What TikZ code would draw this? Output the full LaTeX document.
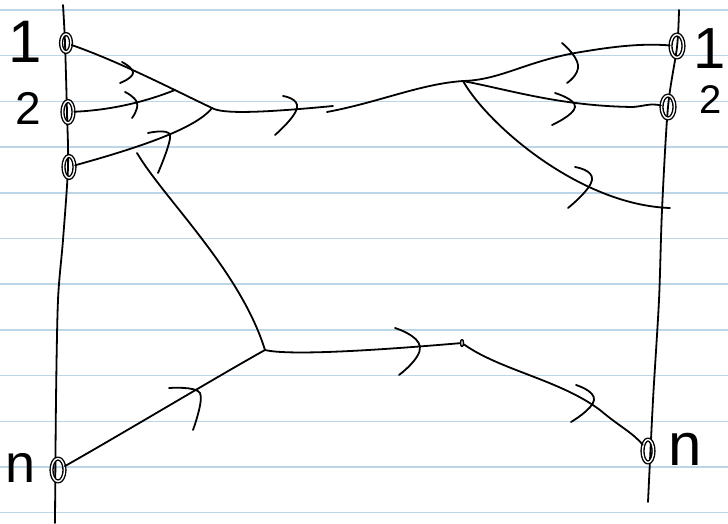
\documentclass[tikz,border=0pt]{standalone}
\usepackage{fontspec}
\setmainfont{Liberation Sans}
\usetikzlibrary{shapes.geometric}
\definecolor{rulecol}{RGB}{188,214,232}
\begin{document}
\begin{tikzpicture}[x=1pt,y=-1pt,line cap=round,line join=round,
  ink/.style={line width=1.8pt,black},
  rule/.style={line width=1.5pt,draw=rulecol},
  term/.style={ellipse,draw,line width=1.4pt,double,double distance=1.4pt,inner sep=0pt},
  lab/.style={inner sep=0pt,font=\fontsize{#1}{#1}\selectfont}]
\useasboundingbox (0,0) rectangle (728,523);
\fill[white] (0,0) rectangle (728,523);
\foreach \k in {0,...,11} \draw[rule] (0,{10+45.7*\k}) -- (728,{10+45.7*\k});

% vertical lines
\draw[ink] plot[smooth] coordinates {(63,5) (65,43) (67,113) (68,167) (63,240) (58,300) (56,400) (55,523)};
\draw[ink] plot[smooth] coordinates {(679,10) (677,47) (668,107) (662,210) (659,300) (653,400) (648,502)};

% terminals
\node[term,minimum width=10pt,minimum height=18pt] (L1) at (66,43) {};
\node[term,minimum width=11pt,minimum height=22pt] (L2) at (68,112) {};
\node[term,minimum width=11pt,minimum height=22pt] (L3) at (69,167) {};
\node[term,minimum width=13pt,minimum height=23pt] (Ln) at (58,470) {};
\node[term,minimum width=13pt,minimum height=23pt] (R1) at (677,46) {};
\node[term,minimum width=13pt,minimum height=23pt] (R2) at (668,107) {};
\node[term,minimum width=11pt,minimum height=23pt] (Rn) at (648,451) {};
\coordinate (R3) at (670,208);

% junctions
\coordinate (JA) at (212,108);
\coordinate (M2) at (175,90);
\coordinate (S) at (137,153);
\coordinate (G1) at (333,106);
\coordinate (G2) at (327,112);
\coordinate (JB) at (463,81);
\coordinate (JC) at (265,350);
\node[ellipse,draw,line width=1.4pt,inner sep=0pt,minimum width=3pt,minimum height=7pt] (JD) at (462,343) {};

% labels
\node[lab=60pt] (tL1) at (25,42) {1};
\node[lab=46pt] (tL2) at (28,108) {2};
\node[lab=58pt] (tR1) at (710,49) {1};
\node[lab=40pt] (tR2) at (711,100) {2};
\node[lab=54pt] (tLn) at (21,468) {n};
\node[lab=60pt] (tRn) at (685,449) {n};

% connectors
\draw[ink] (L1) .. controls (120,62) and (170,88) .. (JA);
\draw[ink] (L2) .. controls (115,110) and (150,100) .. (M2);
\draw[ink] (L3) .. controls (130,150) and (195,130) .. (JA);
\draw[ink] (JA) .. controls (222,114) and (260,113) .. (G1);
\draw[ink] (G2) .. controls (380,102) and (420,84) .. (JB);
\draw[ink] (JB) .. controls (500,80) and (525,62) .. (575,53) .. controls (610,47) and (640,43) .. (R1);
\draw[ink] (JB) .. controls (510,90) and (560,106) .. (633,107) .. controls (645,106) and (650,103) .. (R2);
\draw[ink] (JB) .. controls (488,125) and (580,205) .. (R3);
\draw[ink] (S) .. controls (165,200) and (240,270) .. (JC);
\draw[ink] (Ln) .. controls (120,435) and (220,375) .. (JC);
\draw[ink] (JC) .. controls (290,356) and (380,350) .. (JD);
\draw[ink] (JD) .. controls (500,370) and (560,380) .. (600,410) .. controls (620,427) and (632,432) .. (Rn);

% hand-drawn arrow marks
\draw[ink] plot[smooth,tension=0.9] coordinates {(122,62) (133,73) (120,83)};
\draw[ink] plot[smooth,tension=0.9] coordinates {(125,92) (137,103) (132,118)};
\draw[ink] plot[smooth,tension=0.6] coordinates {(148,133) (170,135) (158,173)};
\draw[ink] plot[smooth,tension=0.9] coordinates {(283,96) (297,108) (275,135)};
\draw[ink] plot[smooth,tension=0.9] coordinates {(562,43) (578,65) (567,83)};
\draw[ink] plot[smooth,tension=0.9] coordinates {(555,93) (575,107) (552,125)};
\draw[ink] plot[smooth,tension=0.9] coordinates {(575,167) (592,180) (568,208)};
\draw[ink] plot[smooth,tension=0.6] coordinates {(169,388) (200,393) (193,430)};
\draw[ink] plot[smooth,tension=0.9] coordinates {(395,328) (420,347) (399,375)};
\draw[ink] plot[smooth,tension=0.9] coordinates {(576,385) (594,400) (571,422)};
\end{tikzpicture}
\end{document}
